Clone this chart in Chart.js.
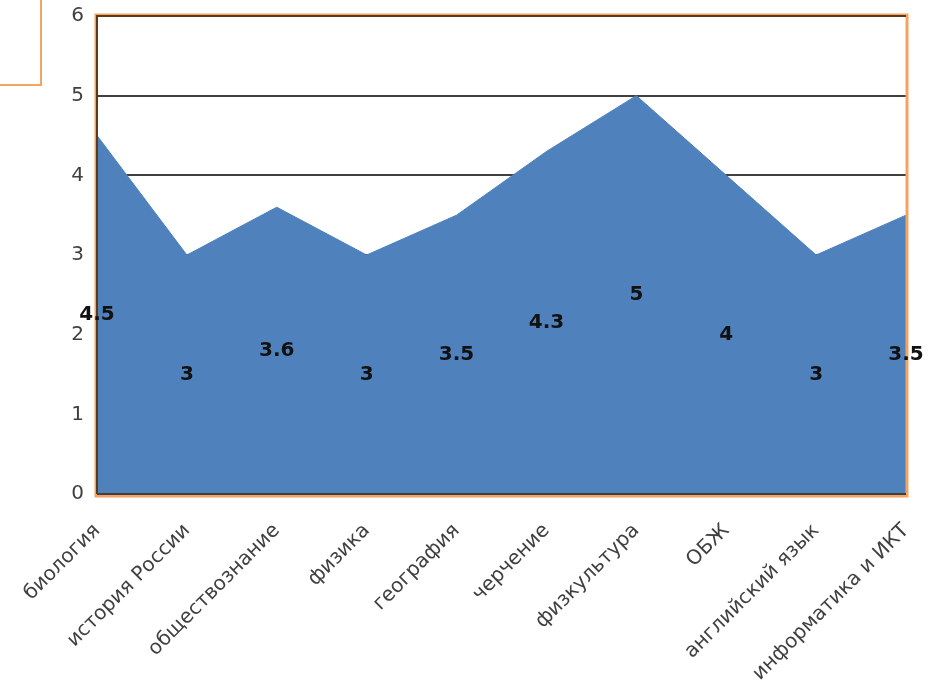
<!DOCTYPE html>
<html lang="ru">
<head>
<meta charset="UTF-8">
<title>Оценки по предметам</title>
<script src="https://cdn.jsdelivr.net/npm/chart.js"></script>
<style>
  html, body { margin: 0; padding: 0; background: #fff; }
</style>
</head>
<body>
<canvas id="myChart" width="928" height="690"></canvas>
<script>
// данные
const subjects = ['биология', 'история России', 'обществознание', 'физика', 'география',
                  'черчение', 'физкультура', 'ОБЖ', 'английский язык', 'информатика и ИКТ'];
const grades = [4.5, 3, 3.6, 3, 3.5, 4.3, 5, 4, 3, 3.5];
const yTicks = [0, 1, 2, 3, 4, 5, 6];

const orange = '#F4A460';

// подписи значений посередине высоты области + рамки
const decor = {
  id: 'decor',
  afterDatasetsDraw(chart) {
    const { ctx, chartArea: a, scales: { x, y } } = chart;
    ctx.save();
    // рамка области построения
    ctx.strokeStyle = orange;
    ctx.lineWidth = 3;
    ctx.strokeRect(a.left - 1, a.top - 1, a.right - a.left + 2, a.bottom - a.top + 3);
    ctx.strokeStyle = '#5a3a1a';
    ctx.lineWidth = 2;
    ctx.beginPath();
    ctx.moveTo(a.left, a.bottom);
    ctx.lineTo(a.left, a.top);
    ctx.lineTo(a.right, a.top);
    ctx.stroke();
    ctx.strokeStyle = '#404040';
    ctx.beginPath();
    ctx.moveTo(a.left, a.bottom);
    ctx.lineTo(a.right, a.bottom);
    ctx.stroke();

    // маленькая рамка в углу
    ctx.strokeStyle = orange;
    ctx.lineWidth = 2;
    ctx.strokeRect(-5, -5, 46, 90);

    // значения
    ctx.fillStyle = '#111';
    ctx.font = 'bold 20px "DejaVu Sans", sans-serif';
    ctx.textAlign = 'center';
    ctx.textBaseline = 'middle';
    grades.forEach((v, i) => {
      ctx.fillText(String(v), x.getPixelForValue(i), y.getPixelForValue(v / 2));
    });
    ctx.restore();
  }
};

const ctx = document.getElementById('myChart').getContext('2d');
new Chart(ctx, {
  type: 'line',
  data: {
    labels: subjects,
    datasets: [{
      data: grades,
      fill: 'origin',
      backgroundColor: '#4F81BD',
      borderColor: '#4F81BD',
      borderWidth: 1,
      pointRadius: 0,
      tension: 0
    }]
  },
  options: {
    responsive: false,
    animation: false,
    layout: { padding: { top: 16, right: 22, left: 0, bottom: 0 } },
    plugins: {
      legend: { display: false },
      tooltip: { enabled: false }
    },
    scales: {
      x: {
        offset: false,
        grid: { display: false, drawTicks: false },
        border: { display: false },
        ticks: {
          autoSkip: false,
          maxRotation: 45,
          minRotation: 45,
          padding: 25,
          color: '#404040',
          font: { family: '"DejaVu Sans", sans-serif', size: 20 }
        },
        afterFit(scale) {
          scale.height = 196;
          scale.paddingLeft = 0;
          scale.paddingRight = 0;
        }
      },
      y: {
        min: 0,
        max: 6,
        afterBuildTicks(scale) { scale.ticks = yTicks.map(v => ({ value: v })); },
        grid: { color: '#404040', lineWidth: 2, drawTicks: false },
        border: { display: false },
        ticks: {
          padding: 13,
          color: '#404040',
          font: { family: '"DejaVu Sans", sans-serif', size: 20 }
        },
        afterFit(scale) {
          scale.width = 97;
          scale.paddingTop = 0;
          scale.paddingBottom = 0;
        }
      }
    }
  },
  plugins: [decor]
});
</script>
</body>
</html>
